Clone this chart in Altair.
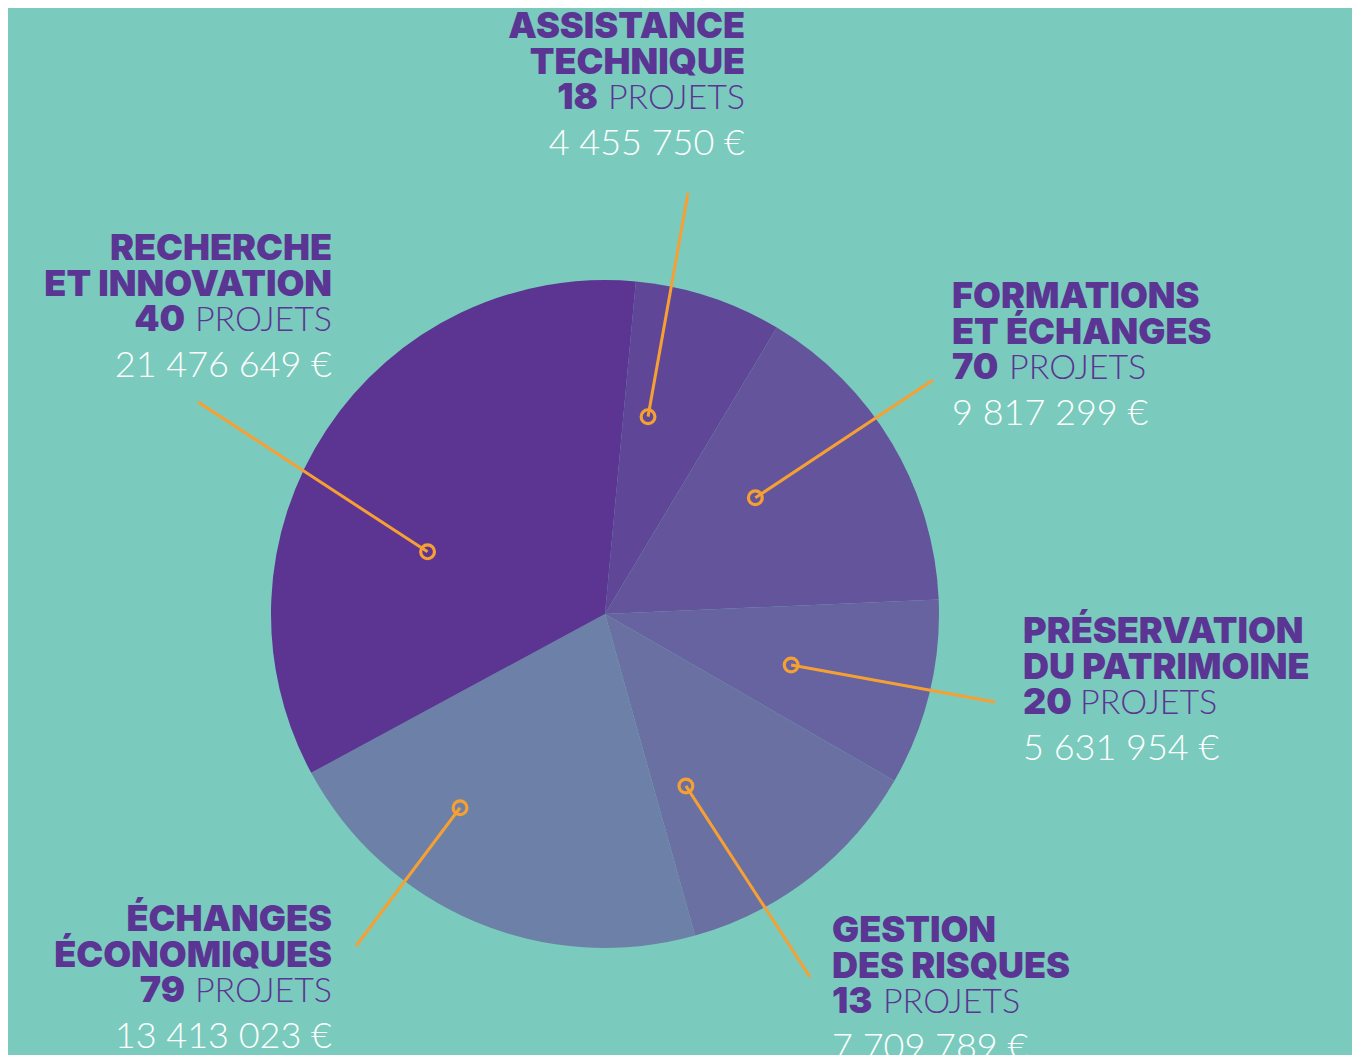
import math
import pandas as pd
import altair as alt

# ---------------- data ----------------
categories = [
    "Assistance technique",
    "Formations et échanges",
    "Préservation du patrimoine",
    "Gestion des risques",
    "Échanges économiques",
    "Recherche et innovation",
]
amounts = [4455750, 9817299, 5631954, 7709789, 13413023, 21476649]
projects = [18, 70, 20, 13, 79, 40]
label_line1 = ["ASSISTANCE", "FORMATIONS", "PRÉSERVATION", "GESTION", "ÉCHANGES", "RECHERCHE"]
label_line2 = ["TECHNIQUE", "ET ÉCHANGES", "DU PATRIMOINE", "DES RISQUES", "ÉCONOMIQUES", "ET INNOVATION"]
slice_colors = ["#5F4697", "#63549B", "#6762A0", "#6A70A2", "#6C80A8", "#5C3592"]

# ---------------- layout (pixels relative to pie centre, y downwards) ----------------
W, H = 1344, 1047
CX, CY = 597, 606
R = 334
START = math.radians(5.3)

label_side = ["right", "left", "left", "left", "right", "right"]
label_x = [140, 347, 418, 227, -273, -273]
label_y = [-576, -306, 29, 328, 317, -354]
dot_angle = [12.3, 52.3, 105.3, 154.8, 216.8, 289.3]
dot_radius = [202, 190, 193, 190, 242, 188]
line_end_x = [83, 328, 390, 205, -249, -407]
line_end_y = [-421, -234, 88, 363, 332, -212]

BG = "#7ACBBD"
PURPLE = "#5B3593"
ORANGE = "#F6A033"
LINE_OFF = [0, 36, 71, 117]
BOLD_FONT = "Inter"
BOLD_SIZE = 36
PROJ_SIZE = 34
AMT_SIZE = 36
W_PROJ = 136
GAP = 11
DIGIT_EM = {"1": 0.47}

def num_width(s):
    return sum(DIGIT_EM.get(ch, 0.64) for ch in s) * BOLD_SIZE

def fmt_eur(v):
    return f"{v:,}".replace(",", " ") + " €"

pie_df = pd.DataFrame({
    "cat": categories,
    "value": amounts,
    "ord": list(range(len(categories))),
})

dots = []
for i in range(len(categories)):
    a = math.radians(dot_angle[i])
    dx = dot_radius[i] * math.sin(a)
    dy = -dot_radius[i] * math.cos(a)
    dots.append({"cat": categories[i], "x": dx, "y": dy,
                 "x2": line_end_x[i], "y2": line_end_y[i]})
dots_df = pd.DataFrame(dots)

bold_rows, light_rows = [], []
for i in range(len(categories)):
    side = label_side[i]
    x0, y0 = label_x[i], label_y[i]
    n = str(projects[i])
    bold_rows.append({"side": side, "x": x0, "y": y0 + LINE_OFF[0], "t": label_line1[i]})
    bold_rows.append({"side": side, "x": x0, "y": y0 + LINE_OFF[1], "t": label_line2[i]})
    if side == "right":
        bold_rows.append({"side": side, "x": x0 - W_PROJ - GAP, "y": y0 + LINE_OFF[2], "t": n})
        light_rows.append({"side": side, "x": x0, "y": y0 + LINE_OFF[2], "t": "PROJETS",
                           "c": PURPLE, "s": PROJ_SIZE})
    else:
        bold_rows.append({"side": side, "x": x0, "y": y0 + LINE_OFF[2], "t": n})
        light_rows.append({"side": side, "x": x0 + num_width(n) + GAP, "y": y0 + LINE_OFF[2],
                           "t": "PROJETS", "c": PURPLE, "s": PROJ_SIZE})
    light_rows.append({"side": side, "x": x0, "y": y0 + LINE_OFF[3], "t": fmt_eur(amounts[i]),
                       "c": "#FFFFFF", "s": AMT_SIZE})
bold_df = pd.DataFrame(bold_rows)
light_df = pd.DataFrame(light_rows)

xs = alt.Scale(domain=[-CX, W - CX], nice=False, zero=False)
ys = alt.Scale(domain=[-CY, H - CY], nice=False, zero=False, reverse=True)

pie = alt.Chart(pie_df).mark_arc(radius=R, stroke=None).encode(
    theta=alt.Theta("value:Q", stack=True,
                    scale=alt.Scale(range=[START, START + 2 * math.pi])),
    order=alt.Order("ord:Q"),
    color=alt.Color("cat:N", scale=alt.Scale(domain=categories, range=slice_colors), legend=None),
    x=alt.value(CX),
    y=alt.value(CY),
)

lines = alt.Chart(dots_df).mark_rule(color=ORANGE, strokeWidth=3).encode(
    x=alt.X("x:Q", scale=xs, axis=None),
    y=alt.Y("y:Q", scale=ys, axis=None),
    x2="x2:Q",
    y2="y2:Q",
)

points = alt.Chart(dots_df).mark_point(
    shape="circle", filled=False, color=ORANGE, strokeWidth=3.2, size=190, opacity=1
).encode(
    x=alt.X("x:Q", scale=xs, axis=None),
    y=alt.Y("y:Q", scale=ys, axis=None),
)

def bold_layer(side):
    return alt.Chart(bold_df).transform_filter(alt.datum.side == side).mark_text(
        align=side, baseline="alphabetic", font=BOLD_FONT, fontWeight=900,
        fontSize=BOLD_SIZE, color=PURPLE,
    ).encode(
        x=alt.X("x:Q", scale=xs, axis=None),
        y=alt.Y("y:Q", scale=ys, axis=None),
        text="t:N",
    )

def light_layer(side):
    return alt.Chart(light_df).transform_filter(alt.datum.side == side).mark_text(
        align=side, baseline="alphabetic", font="Lato", fontWeight=300,
    ).encode(
        x=alt.X("x:Q", scale=xs, axis=None),
        y=alt.Y("y:Q", scale=ys, axis=None),
        text="t:N",
        color=alt.Color("c:N", scale=None),
        size=alt.Size("s:Q", scale=None),
    )

texts = [bold_layer("left"), bold_layer("right"), light_layer("left"), light_layer("right")]

chart = alt.layer(pie, lines, points, *texts).properties(
    width=W, height=H, background=BG, padding=0,
    autosize=alt.AutoSizeParams(type="none"),
).configure_view(stroke=None)

chart.save("out.html", embed_options={"renderer": "svg", "actions": False})
